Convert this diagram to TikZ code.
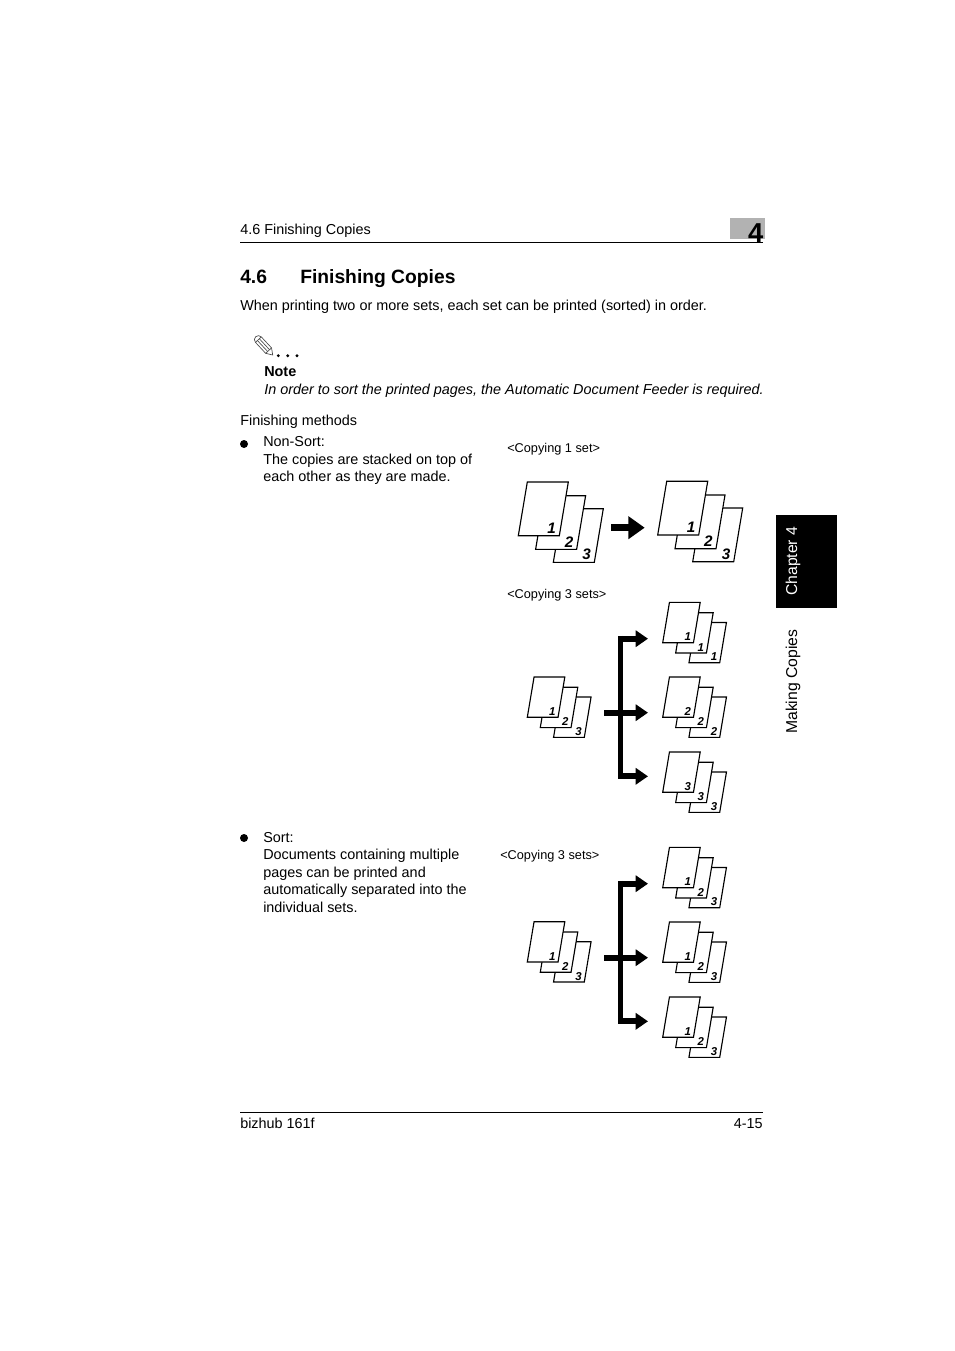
\documentclass[tikz,border=0pt]{standalone}
\usepackage{fontspec}
\setmainfont{Liberation Sans}
\usetikzlibrary{arrows.meta}
\definecolor{tabgrey}{gray}{0.7}
\newcommand{\thickness}{0.85pt}
\newcommand{\bodyfont}{\fontsize{10.8}{13.15}\selectfont}
\newcommand{\capfont}{\fontsize{9.55}{12}\selectfont}
\newcommand{\numfont}{\fontsize{11.4}{11.4}\selectfont\bfseries\itshape}
\tikzset{
  body/.style={anchor=base west,inner sep=0pt,align=left,font=\bodyfont},
  caption/.style={anchor=base west,inner sep=0pt,font=\capfont},
  sheet/.style={fill=white,draw=black,line width=\thickness,line join=miter},
  sheetnum/.style={inner sep=0pt,font=\numfont},
  rule/.style={line width=0.8pt},
  branch/.style={line width=4.4pt,-{Triangle[length=9.2pt,width=12pt]}},
  bigbranch/.style={line width=5.4pt,-{Triangle[length=12.3pt,width=16.5pt]}},
  spine/.style={line width=3.9pt},
  bullet/.style={circle,fill,inner sep=0pt,minimum size=6pt}
}
% one sheet of paper: lower left corner at (0,0)
\newcommand{\sheet}[2]{
\draw[sheet] (#1,#2) -- ++(41,0) -- ++(9,53.7) -- ++(-41,0) -- cycle;
}
% stack of three sheets, #2 name, (#3,#4) lower left of the front sheet
\newcommand{\sheetstack}[7][1]{
\begin{scope}[shift={(#3,#4)},scale=#1,transform shape]
\sheet{35}{-26.7}
\node[sheetnum] (#2c) at (68.4,-19) {#7};
\sheet{17.3}{-13.7}
\node[sheetnum] (#2b) at (50.7,-6) {#6};
\sheet{0}{0}
\node[sheetnum] (#2a) at (33.4,7.7) {#5};
\end{scope}
}
% three branches leaving a spine, #1 name, #2 y of the middle branch
\newcommand{\fanout}[2]{
\coordinate (#1in) at (604,#2);
\coordinate (#1mid) at (648,#2);
\coordinate (#1top) at (620.8,#2+74);
\coordinate (#1topend) at (648,#2+74);
\coordinate (#1low) at (620.8,#2-63.6);
\coordinate (#1lowend) at (648,#2-63.6);
\draw[spine] ([yshift=2.2pt]#1top) -- ([yshift=-2.2pt]#1low);
\draw[branch] (#1in) -- (#1mid);
\draw[branch] (#1top) -- (#1topend);
\draw[branch] (#1low) -- (#1lowend);
}
\begin{document}
\begin{tikzpicture}[x=0.75pt,y=0.75pt]
\useasboundingbox[fill=white] (0,-1351) rectangle (954,0);
% header
\fill[tabgrey] (730,-218) rectangle (765,-239);
\node[anchor=base east,inner sep=0pt,font=\fontsize{20.5}{20.5}\selectfont\bfseries] (chapnum) at (763.5,-243) {4};
\node[body] (headtext) at (240,-234.6) {4.6 Finishing Copies};
\coordinate (headl) at (240,-242.5);
\coordinate (headr) at (763,-242.5);
\draw[rule] (headl) -- (headr);
\node[anchor=base west,inner sep=0pt,font=\fontsize{14.45}{15}\selectfont\bfseries] (secnum) at (240,-284) {4.6};
\node[anchor=base west,inner sep=0pt,font=\fontsize{14.45}{15}\selectfont\bfseries] (sectitle) at (300,-284) {Finishing Copies};
\node[body] (intro) at (240,-310.6) {When printing two or more sets, each set can be printed (sorted) in order.};
% pencil
\begin{scope}[shift={(272.7,-355)},rotate=133]
\draw[black!70,line width=0.5pt] (0,0) -- (6,4) -- (21,4) arc (90:-90:4) -- (6,-4) -- cycle;
\draw[black!70,line width=0.5pt] (6,4) -- (6,-4);
\draw[black!70,line width=0.5pt] (6,1.3) -- (21,1.3);
\draw[black!70,line width=0.5pt] (6,-1.3) -- (21,-1.3);
\draw[black!70,line width=0.5pt] (21,4) -- (21,-4);
\end{scope}
\fill (278.3,-355.7) circle (1.6);
\fill (287.7,-355.7) circle (1.6);
\fill (297,-355.7) circle (1.6);
% note
\node[body,font=\bodyfont\bfseries] (notehead) at (264,-376.5) {Note};
\node[body,font=\bodyfont\itshape] (notetext) at (264,-394) {In order to sort the printed pages, the Automatic Document Feeder is required.};
\node[body] (methods) at (240,-425) {Finishing methods};
% non-sort
\node[bullet] (bulleta) at (244,-444) {};
\node[body,anchor=north west] (nonsort) at (263,-436.5) {Non-Sort:\\The copies are stacked on top of\\each other as they are made.};
\node[caption] (capone) at (507,-452) {<Copying 1 set>};
\sheetstack{sa}{518.3}{-535.7}{1}{2}{3}
\sheetstack{sb}{657.7}{-535}{1}{2}{3}
\coordinate (bigin) at (611.3,-527.7);
\coordinate (bigout) at (644.7,-527.7);
\draw[bigbranch] (bigin) -- (bigout);
\node[caption] (capthree) at (507,-598) {<Copying 3 sets>};
\sheetstack[0.75]{sc}{527.3}{-717.3}{1}{2}{3}
\sheetstack[0.75]{sd}{662.7}{-642.7}{1}{1}{1}
\sheetstack[0.75]{se}{662.7}{-717.3}{2}{2}{2}
\sheetstack[0.75]{sf}{662.7}{-792.3}{3}{3}{3}
\fanout{fa}{-712.7}
% sort
\node[bullet] (bulletb) at (244,-838) {};
\node[body,anchor=north west] (sort) at (263,-832) {Sort:\\Documents containing multiple\\pages can be printed and\\automatically separated into the\\individual sets.};
\node[caption] (capsort) at (500,-859) {<Copying 3 sets>};
\sheetstack[0.75]{sg}{527.3}{-962}{1}{2}{3}
\sheetstack[0.75]{sh}{662.7}{-887.7}{1}{2}{3}
\sheetstack[0.75]{si}{662.7}{-962.3}{1}{2}{3}
\sheetstack[0.75]{sj}{662.7}{-1037.3}{1}{2}{3}
\fanout{fb}{-957.7}
% side tab
\fill[black] (776,-515) rectangle (836.7,-607.7);
\node[anchor=base west,inner sep=0pt,rotate=90,font=\fontsize{11.8}{12}\selectfont,text=white] (tabchap) at (797,-596) {Chapter 4};
\node[anchor=base west,inner sep=0pt,rotate=90,font=\fontsize{11.8}{12}\selectfont] (tabmake) at (797,-734) {Making Copies};
% footer
\coordinate (footl) at (240,-1112.5);
\coordinate (footr) at (763,-1112.5);
\draw[rule] (footl) -- (footr);
\node[body] (footname) at (240,-1128) {bizhub 161f};
\node[body,anchor=base east] (footpage) at (763,-1128) {4-15};
\end{tikzpicture}
\end{document}
